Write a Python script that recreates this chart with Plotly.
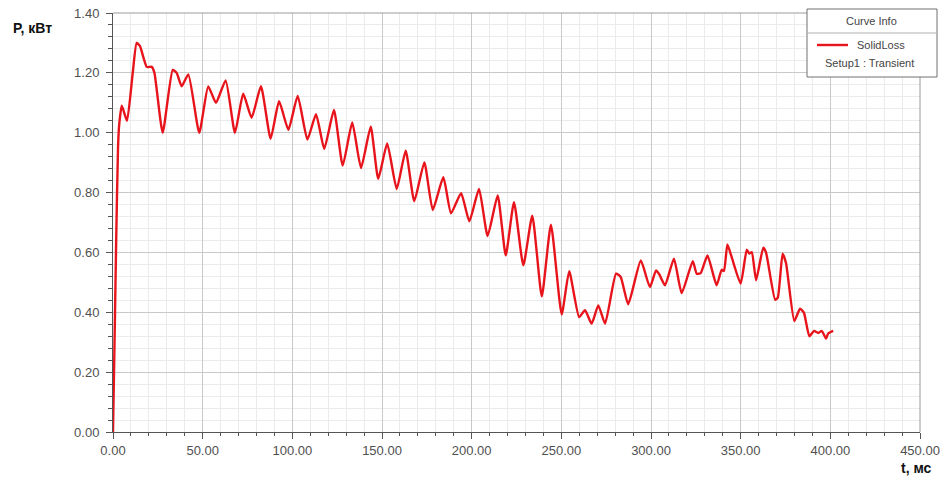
import plotly.graph_objects as go

# SolidLoss transient, time in ms and power in kW
t_ms = [0, 1.0, 1.8, 2.8, 3.5, 4.9, 7.8, 11.0, 13.2, 15.0, 18.8, 21.6, 23.1, 27.7,
        33.3, 35.5, 38.3, 42.0, 48.1, 53.1, 57.4, 62.8, 68.0, 72.6, 77.3, 82.5,
        87.9, 92.6, 97.8, 103.0, 108.4, 113.2, 117.8, 123.2, 128.1, 133.4, 138.3,
        143.7, 147.9, 152.9, 158.2, 163.2, 168.0, 173.6, 178.3, 184.2, 188.5,
        194.1, 198.7, 204.1, 208.9, 214.5, 219.0, 223.6, 228.8, 233.8, 239.1,
        244.2, 250.2, 254.4, 259.9, 263.2, 266.9, 270.6, 274.4, 280.5, 283.1,
        287.3, 294.3, 299.4, 302.8, 304.6, 307.8, 312.8, 317.1, 323.3, 325.5,
        327.7, 331.5, 336.6, 339.4, 340.7, 342.6, 345.0, 350.0, 353.4, 354.8,
        356.2, 358.6, 362.6, 364.1, 369.2, 370.7, 373.4, 375.3, 379.9, 383.1,
        385.3, 388.3, 390.9, 393.3, 395.2, 397.6, 398.8, 401.6]
p_kw = [0.00, 0.35, 0.65, 0.95, 1.03, 1.09, 1.04, 1.20, 1.30, 1.29, 1.22, 1.22, 1.20, 1.00,
        1.21, 1.20, 1.155, 1.195, 1.00, 1.155, 1.10, 1.175, 1.00, 1.13, 1.05, 1.155,
        0.98, 1.105, 1.01, 1.123, 0.977, 1.062, 0.946, 1.076, 0.89, 1.034, 0.882,
        1.02, 0.846, 0.964, 0.812, 0.94, 0.771, 0.901, 0.742, 0.851, 0.731,
        0.798, 0.704, 0.812, 0.655, 0.79, 0.59, 0.768, 0.557, 0.723, 0.453,
        0.693, 0.393, 0.537, 0.384, 0.407, 0.362, 0.423, 0.362, 0.529, 0.518,
        0.427, 0.573, 0.484, 0.54, 0.527, 0.49, 0.579, 0.464, 0.571, 0.529,
        0.531, 0.59, 0.49, 0.542, 0.538, 0.627, 0.584, 0.496, 0.609, 0.596,
        0.601, 0.507, 0.616, 0.601, 0.442, 0.449, 0.596, 0.564, 0.371, 0.412,
        0.398, 0.32, 0.338, 0.331, 0.338, 0.312, 0.329, 0.338]

series_name = "SolidLoss"
setup_name = "Setup1 : Transient"
x_title = "t, мс"
y_title = "P, кВт"

W, H = 944, 479
L, R, T, B = 113, 24, 13, 47
PW, PH = W - L - R, H - T - B


def px(x):
    return (x - L) / PW


def py(y):
    return (H - B - y) / PH


LINE_RED = "#e8141c"
TICK_FONT = dict(family="Liberation Sans, Arial, sans-serif", size=13, color="#505050")

fig = go.Figure()
fig.add_trace(go.Scatter(
    x=t_ms, y=p_kw, mode="lines", name=series_name, showlegend=False,
    line=dict(color=LINE_RED, width=2.4, shape="spline", smoothing=0.5),
))

axis_common = dict(
    showline=True, linecolor="#555555", linewidth=1, mirror=False,
    showgrid=True, gridcolor="#c9c9c9", gridwidth=1,
    zeroline=False, ticks="outside", tickcolor="#555555", ticklen=6,
    tickfont=TICK_FONT, tickformat=".2f", automargin=False,
)

fig.update_xaxes(
    range=[0, 450], dtick=50, tick0=0,
    minor=dict(dtick=10, showgrid=True, gridcolor="#ebebeb", ticks="outside",
               ticklen=3, tickcolor="#555555"),
    **axis_common,
)
fig.update_yaxes(
    range=[0, 1.4], dtick=0.2, tick0=0,
    minor=dict(dtick=0.04, showgrid=True, gridcolor="#ebebeb", ticks="outside",
               ticklen=4, tickcolor="#555555"),
    ticklabelstandoff=4,
    **axis_common,
)

shapes = [
    # plot frame top and right
    dict(type="line", xref="paper", yref="paper", x0=0, x1=1, y0=1, y1=1,
         line=dict(color="#9a9a9a", width=1)),
    dict(type="line", xref="paper", yref="paper", x0=1, x1=1, y0=0, y1=1,
         line=dict(color="#9a9a9a", width=1)),
    # curve info box
    dict(type="rect", xref="paper", yref="paper",
         x0=px(807), x1=px(937), y0=py(77), y1=py(9),
         fillcolor="white", line=dict(color="#707070", width=1), layer="above"),
    dict(type="line", xref="paper", yref="paper",
         x0=px(807), x1=px(937), y0=py(33), y1=py(33),
         line=dict(color="#b0b0b0", width=1), layer="above"),
    dict(type="line", xref="paper", yref="paper",
         x0=px(817), x1=px(848), y0=py(45), y1=py(45),
         line=dict(color=LINE_RED, width=2.4), layer="above"),
]

small = dict(family="Liberation Sans, Arial, sans-serif", size=11, color="#444444")
annotations = [
    dict(text="Curve Info", x=px(871), y=py(21), xref="paper", yref="paper",
         showarrow=False, font=small, xanchor="center", yanchor="middle"),
    dict(text=series_name, x=px(881), y=py(45), xref="paper", yref="paper",
         showarrow=False, font=small, xanchor="center", yanchor="middle"),
    dict(text=setup_name, x=px(869), y=py(63), xref="paper", yref="paper",
         showarrow=False, font=small, xanchor="center", yanchor="middle"),
    dict(text="<b>" + y_title + "</b>", x=px(11), y=py(28), xref="paper", yref="paper",
         showarrow=False, xanchor="left", yanchor="middle",
         font=dict(family="Liberation Sans, Arial, sans-serif", size=14, color="#111111")),
    dict(text="<b>" + x_title + "</b>", x=px(934), y=py(468), xref="paper", yref="paper",
         showarrow=False, xanchor="right", yanchor="middle",
         font=dict(family="Liberation Sans, Arial, sans-serif", size=14, color="#111111")),
]

fig.update_layout(
    width=W, height=H,
    margin=dict(l=L, r=R, t=T, b=B, autoexpand=False),
    paper_bgcolor="white", plot_bgcolor="white",
    shapes=shapes, annotations=annotations,
    showlegend=False,
)

fig.write_html("out.html")
